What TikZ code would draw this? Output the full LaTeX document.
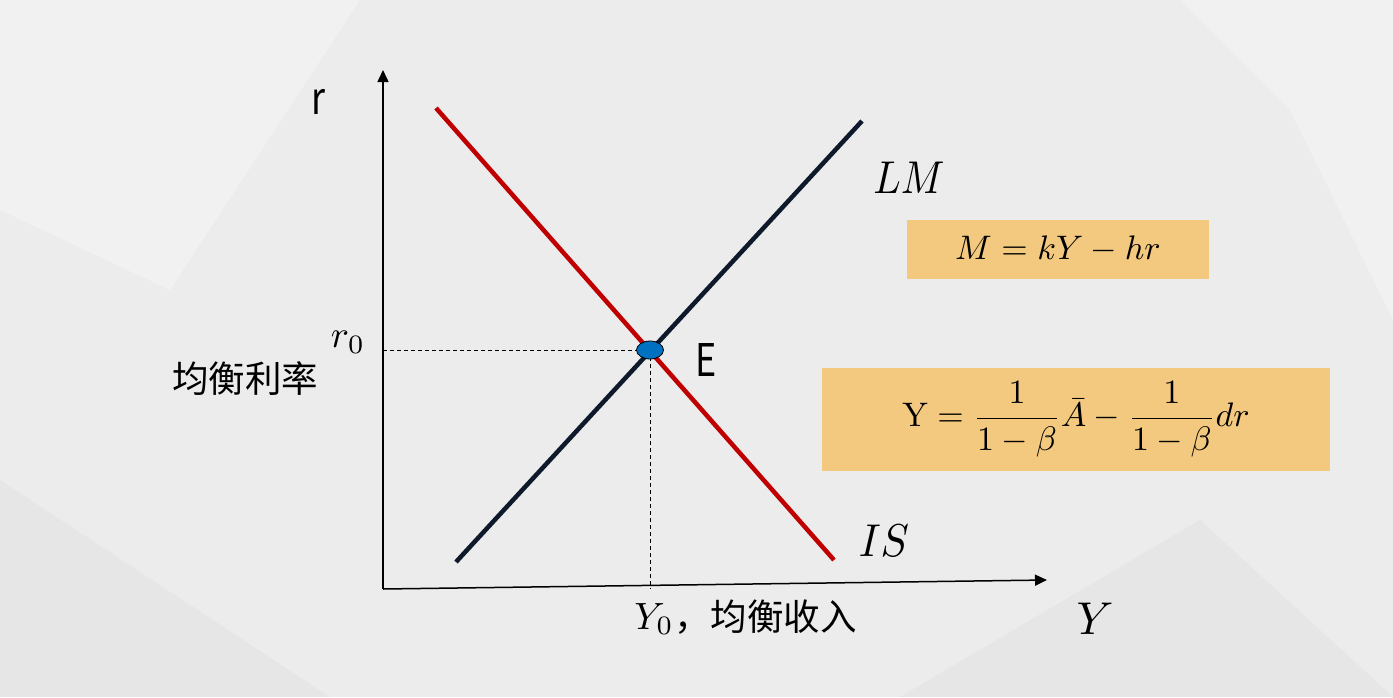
\documentclass[tikz,border=0pt]{standalone}
\usepackage{amsmath}
\usepackage{fontspec}
\newfontfamily\cjk{Noto Sans CJK SC}
\usetikzlibrary{arrows.meta,shapes.geometric}
\definecolor{bgbase}{HTML}{ECECEC}
\definecolor{bglight}{HTML}{F1F1F1}
\definecolor{bgdark}{HTML}{E6E6E6}
\definecolor{isred}{HTML}{C00000}
\definecolor{lmnavy}{HTML}{0E1A2B}
\definecolor{boxfill}{HTML}{F3C87F}
\definecolor{eblue}{HTML}{0070C0}
\begin{document}
\begin{tikzpicture}[x=1pt,y=-1pt,
  axisline/.style={line width=1.5pt,-{Triangle[length=12pt,width=11pt]}},
  curveline/.style={line width=4.5pt},
  guide/.style={line width=0.9pt, dash pattern=on 4pt off 3pt},
  sanslab/.style={font=\cjk\fontsize{45}{50}\selectfont, inner sep=0pt, xscale=0.8},
  cjklab/.style={font=\cjk\fontsize{36.5}{40}\selectfont, inner sep=0pt},
  mathbig/.style={inner sep=0pt, scale=4.6},
  mathmid/.style={inner sep=0pt, scale=3.8},
  formtext/.style={inner sep=0pt, scale=3.4},
  formbox/.style={fill=boxfill, inner sep=0pt}
]
% background
\fill[bgbase] (0,0) rectangle (1393,697);
\fill[bglight] (0,0) -- (360,0) -- (170,290) -- (0,210) -- cycle;
\fill[bglight] (1180,0) -- (1393,0) -- (1393,320) -- (1290,110) -- cycle;
\fill[bgdark] (0,480) -- (330,697) -- (0,697) -- cycle;
\fill[bgdark] (900,697) -- (1200,520) -- (1393,697) -- cycle;
\useasboundingbox (0,0) rectangle (1393,697);

% axes
\coordinate (O) at (383,589);
\coordinate (ytip) at (383,70);
\coordinate (xtip) at (1047,580);
\draw[axisline] (O) -- (ytip);
\draw[axisline] (O) -- (xtip);

% curves
\coordinate (is1) at (436,108);
\coordinate (is2) at (834,560);
\coordinate (lm1) at (456,562);
\coordinate (lm2) at (862,121);
\draw[curveline, isred] (is1) -- (is2);
\draw[curveline, lmnavy] (lm1) -- (lm2);

% equilibrium
\coordinate (Ec) at (650,350);
\draw[guide] (Ec -| O) -- (Ec);
\draw[guide] (Ec) -- (Ec |- O);
\node[ellipse, draw=black, fill=eblue, line width=0.8pt, minimum width=27pt, minimum height=18pt, inner sep=0pt] (E) at (Ec) {};

% labels
\node[sanslab] (rlab) at (318,102) {r};
\node[sanslab] (Elab) at (706,360) {E};
\node[cjklab] (rrate) at (245,379) {均衡利率};
\node[mathmid] (r0) at (348,342) {$r_0$};
\node[mathmid] (y0) at (654,619) {$Y_0$};
\node[cjklab, anchor=west] (y0txt) at (674,617) {，均衡收入};
\node[mathbig] (Ylab) at (1095,619) {$Y$};
\node[mathbig, xscale=0.88] (LMlab) at (909,178) {$LM$};
\node[mathbig, xscale=0.92] (ISlab) at (884,541) {$IS$};

% formula boxes
\node[formbox, minimum width=302pt, minimum height=59pt] (lmbox) at (1058,249.5) {};
\node[formtext] (lmeq) at (lmbox) {$M = kY - hr$};
\node[formbox, minimum width=508pt, minimum height=103pt] (isbox) at (1076,419.5) {};
\node[formtext] (iseq) at (isbox)
  {$\mathrm{Y} = \dfrac{1}{1-\beta}\bar{A} - \dfrac{1}{1-\beta}dr$};
\end{tikzpicture}
\end{document}
